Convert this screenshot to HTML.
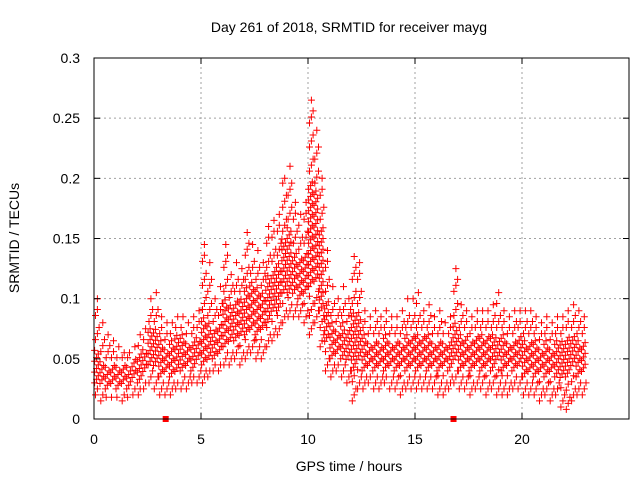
<!DOCTYPE html>
<html><head><meta charset="utf-8"><style>
html,body{margin:0;padding:0;background:#fff;}
svg{display:block;font-family:"Liberation Sans",sans-serif;}
</style></head><body>
<svg id="chart" width="640" height="480" viewBox="0 0 640 480">
<rect x="0" y="0" width="640" height="480" fill="#fff"/>
<text x="349" y="32" font-size="14" text-anchor="middle">Day 261 of 2018, SRMTID for receiver mayg</text>
<text x="349" y="471" font-size="14" text-anchor="middle">GPS time / hours</text>
<text transform="translate(19,238) rotate(-90)" font-size="14" text-anchor="middle">SRMTID / TECUs</text>
<g id="grid"></g><g id="marks"></g><g id="axes"></g>
</svg>
<script>
const xTicks=[0,5,10,15,20];
const yTicks=[0,0.05,0.1,0.15,0.2,0.25,0.3];
const yTickLabels=["0","0.05","0.1","0.15","0.2","0.25","0.3"];
const binStart=0, binWidth=0.25;
const highVals=[.1,.08,.07,.065,.06,.055,.055,.06,.07,.075,.1,.105,.085,.08,.08,.085,.085,.08,.085,.09,.145,.13,.1,.11,.145,.12,.13,.125,.155,.145,.14,.13,.16,.165,.17,.2,.21,.18,.17,.18,.265,.24,.2,.14,.11,.1,.11,.1,.135,.13,.09,.085,.09,.085,.09,.085,.085,.09,.1,.1,.105,.09,.095,.085,.09,.08,.085,.125,.095,.09,.085,.09,.09,.09,.095,.105,.09,.085,.09,.09,.09,.09,.085,.08,.085,.08,.085,.085,.09,.095,.09,.085];
const q3Vals=[.06,.05,.045,.045,.045,.045,.045,.05,.055,.06,.075,.075,.065,.06,.065,.07,.07,.065,.065,.07,.085,.08,.075,.08,.1,.095,.1,.1,.11,.115,.11,.105,.12,.125,.13,.15,.16,.14,.135,.14,.2,.19,.16,.1,.08,.075,.08,.075,.09,.09,.07,.065,.065,.065,.07,.065,.065,.065,.07,.07,.07,.07,.07,.065,.065,.065,.065,.08,.07,.07,.065,.07,.07,.07,.07,.07,.07,.065,.065,.07,.065,.065,.065,.06,.065,.06,.065,.065,.07,.07,.065,.065];
const q1Vals=[.03,.025,.025,.025,.025,.025,.025,.03,.03,.035,.045,.04,.035,.035,.035,.035,.04,.04,.04,.045,.045,.045,.05,.05,.06,.06,.065,.065,.07,.07,.07,.07,.08,.085,.09,.1,.105,.1,.1,.1,.11,.11,.09,.06,.05,.05,.05,.045,.04,.045,.04,.04,.04,.04,.04,.04,.04,.04,.04,.04,.04,.04,.04,.04,.04,.04,.04,.045,.04,.04,.04,.04,.04,.04,.04,.045,.04,.04,.04,.04,.035,.035,.035,.035,.035,.035,.035,.03,.035,.04,.035,.035];
const lowVals=[.02,.015,.018,.018,.018,.015,.018,.02,.02,.025,.03,.025,.02,.02,.02,.025,.025,.025,.03,.03,.03,.035,.04,.04,.045,.045,.05,.045,.05,.055,.05,.05,.06,.065,.07,.08,.085,.085,.085,.08,.07,.08,.06,.04,.035,.04,.035,.03,.015,.025,.025,.03,.025,.025,.03,.025,.025,.02,.025,.025,.025,.025,.025,.025,.02,.02,.025,.03,.025,.025,.02,.025,.025,.02,.025,.02,.02,.02,.025,.025,.02,.02,.02,.015,.02,.015,.02,.01,.008,.015,.02,.02];
const outageTimes=[3.35,16.8];

const X0=94,X1=629,Y0=419,Y1=58,XMAX=25,YMAX=0.3;
const sx=v=>X0+(X1-X0)*v/XMAX;
const sy=v=>Y0-(Y0-Y1)*v/YMAX;
const NS="http://www.w3.org/2000/svg";
function mk(tag,attrs,parent){const e=document.createElementNS(NS,tag);for(const k in attrs)e.setAttribute(k,attrs[k]);parent.appendChild(e);return e;}
const grid=document.getElementById('grid'),marks=document.getElementById('marks'),axes=document.getElementById('axes');

yTicks.forEach((v,i)=>{
  const y=sy(v);
  if(i>0&&i<yTicks.length-1){const g=mk('line',{x1:X0,x2:X1,y1:y,y2:y,stroke:'#a0a0a0','stroke-dasharray':'2,3'},grid);
  
  }
  const t=mk('line',{x1:X0,x2:X0+6,y1:y,y2:y,stroke:'#000'},axes);
  
  
  const t2=mk('line',{x1:X1,x2:X1-6,y1:y,y2:y,stroke:'#000'},axes);
  
  
  const l=mk('text',{x:X0-14,y:y+5,'font-size':14,'text-anchor':'end'},axes);
  l.textContent=yTickLabels[i];
  
  
});
xTicks.forEach(v=>{
  const x=sx(v);
  if(v>0){const g=mk('line',{x1:x,x2:x,y1:Y0,y2:Y1,stroke:'#a0a0a0','stroke-dasharray':'2,3'},grid);
  
  }
  const t=mk('line',{x1:x,x2:x,y1:Y0,y2:Y0-6,stroke:'#000'},axes);
  
  
  const t2=mk('line',{x1:x,x2:x,y1:Y1,y2:Y1+6,stroke:'#000'},axes);
  
  
  const l=mk('text',{x:x,y:Y0+25,'font-size':14,'text-anchor':'middle'},axes);
  l.textContent=String(v);
  
  
});
const frame=mk('rect',{x:X0,y:Y1,width:X1-X0,height:Y0-Y1,fill:'none',stroke:'#000'},axes);



let d='';
function cross(t,v){const x=sx(t),y=sy(v);d+=`M${(x-3.5).toFixed(1)} ${y.toFixed(1)}h7M${x.toFixed(1)} ${(y-3.5).toFixed(1)}v7`;}
const xOff=[0.03,0.12,0.2];
lowVals.forEach((lo,i)=>{
  const t0=binStart+i*binWidth;
  const a=q1Vals[i],b=q3Vals[i],hi=highVals[i];
  xOff.forEach((o,k)=>{
    for(let v=a+k*0.003+(i%2)*0.0045;v<=b;v+=0.009) cross(t0+o,v);
    for(let v=lo+k*0.005;v<a-0.003;v+=0.016) cross(t0+o+0.04,v);
    for(let v=b+0.006+k*0.005;v<hi-0.004;v+=0.02) cross(t0+o+0.04,v);
  });
  cross(t0+0.07,lo);
  cross(t0+0.16,hi);
});
const p=mk('path',{d:d,stroke:'#ff0000','stroke-width':1,fill:'none'},marks);


outageTimes.forEach(t=>{
  const r=mk('rect',{x:sx(t)-3,y:Y0-3,width:6,height:6,fill:'#ff0000'},marks);
  
  
});
</script>
</body></html>
